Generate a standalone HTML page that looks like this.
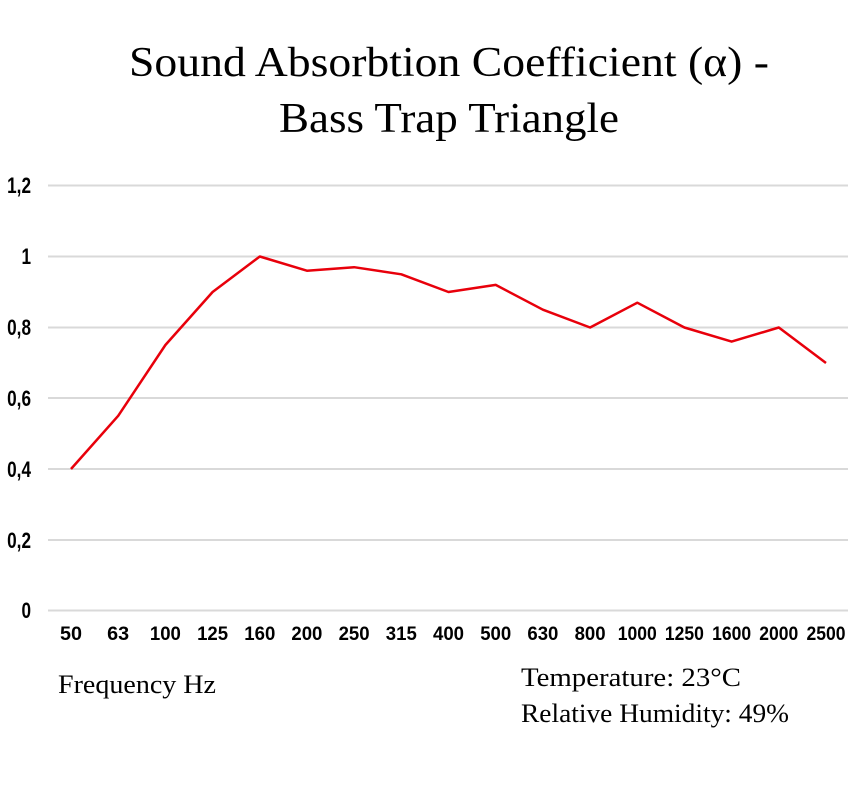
<!DOCTYPE html>
<html><head><meta charset="utf-8"><style>
html,body{margin:0;padding:0;background:#fff;}
svg{display:block}
.t{font-family:"Liberation Serif",serif;font-size:42px;fill:#000}
.tk{font-family:"Liberation Sans",sans-serif;font-weight:bold;font-size:19px;fill:#000}
.yk{font-family:"Liberation Sans",sans-serif;font-weight:bold;font-size:22px;fill:#000}
.lb{font-family:"Liberation Serif",serif;font-size:26px;fill:#000}
</style></head><body>
<svg width="866" height="800" viewBox="0 0 866 800">
<text class="t" x="449" y="76" text-anchor="middle" textLength="640" lengthAdjust="spacingAndGlyphs">Sound Absorbtion Coefficient (α) -</text>
<text class="t" x="449" y="132" text-anchor="middle" textLength="340" lengthAdjust="spacingAndGlyphs">Bass Trap Triangle</text>
<g stroke="#d9d9d9" stroke-width="2">
<line x1="48" x2="848" y1="185.5" y2="185.5"/>
<line x1="48" x2="848" y1="256.5" y2="256.5"/>
<line x1="48" x2="848" y1="327.5" y2="327.5"/>
<line x1="48" x2="848" y1="398" y2="398"/>
<line x1="48" x2="848" y1="469" y2="469"/>
<line x1="48" x2="848" y1="540" y2="540"/>
<line x1="48" x2="848" y1="610.5" y2="610.5"/>
</g>
<g class="yk" text-anchor="end">
<text x="31" y="193" transform="translate(31 0) scale(0.78 1) translate(-31 0)">1,2</text>
<text x="31" y="264" transform="translate(31 0) scale(0.78 1) translate(-31 0)">1</text>
<text x="31" y="335" transform="translate(31 0) scale(0.78 1) translate(-31 0)">0,8</text>
<text x="31" y="406" transform="translate(31 0) scale(0.78 1) translate(-31 0)">0,6</text>
<text x="31" y="477" transform="translate(31 0) scale(0.78 1) translate(-31 0)">0,4</text>
<text x="31" y="548" transform="translate(31 0) scale(0.78 1) translate(-31 0)">0,2</text>
<text x="31" y="618" transform="translate(31 0) scale(0.78 1) translate(-31 0)">0</text>
</g>
<g class="tk" text-anchor="middle">
<text x="71" y="640" textLength="22" lengthAdjust="spacingAndGlyphs">50</text>
<text x="118.2" y="640" textLength="22" lengthAdjust="spacingAndGlyphs">63</text>
<text x="165.4" y="640" textLength="31" lengthAdjust="spacingAndGlyphs">100</text>
<text x="212.6" y="640" textLength="31" lengthAdjust="spacingAndGlyphs">125</text>
<text x="259.8" y="640" textLength="31" lengthAdjust="spacingAndGlyphs">160</text>
<text x="306.9" y="640" textLength="31" lengthAdjust="spacingAndGlyphs">200</text>
<text x="354.1" y="640" textLength="31" lengthAdjust="spacingAndGlyphs">250</text>
<text x="401.3" y="640" textLength="31" lengthAdjust="spacingAndGlyphs">315</text>
<text x="448.5" y="640" textLength="31" lengthAdjust="spacingAndGlyphs">400</text>
<text x="495.7" y="640" textLength="31" lengthAdjust="spacingAndGlyphs">500</text>
<text x="542.9" y="640" textLength="31" lengthAdjust="spacingAndGlyphs">630</text>
<text x="590.1" y="640" textLength="31" lengthAdjust="spacingAndGlyphs">800</text>
<text x="637.3" y="640" textLength="39" lengthAdjust="spacingAndGlyphs">1000</text>
<text x="684.4" y="640" textLength="39" lengthAdjust="spacingAndGlyphs">1250</text>
<text x="731.6" y="640" textLength="39" lengthAdjust="spacingAndGlyphs">1600</text>
<text x="778.8" y="640" textLength="39" lengthAdjust="spacingAndGlyphs">2000</text>
<text x="826" y="640" textLength="39" lengthAdjust="spacingAndGlyphs">2500</text>
</g>
<polyline fill="none" stroke="#e8000b" stroke-width="2.5" stroke-linejoin="round" points="71,469 118.2,415.8 165.4,345 212.6,292 259.8,256.5 306.9,270.7 354.1,267.2 401.3,274.3 448.5,292 495.7,284.9 542.9,309.7 590.1,327.5 637.3,302.7 684.4,327.5 731.6,341.6 778.8,327.5 826,363"/>
<text class="lb" x="58" y="693" textLength="158" lengthAdjust="spacingAndGlyphs">Frequency Hz</text>
<text class="lb" x="521" y="686" textLength="220" lengthAdjust="spacingAndGlyphs">Temperature: 23°C</text>
<text class="lb" x="521" y="722" textLength="268" lengthAdjust="spacingAndGlyphs">Relative Humidity: 49%</text>
</svg>
</body></html>
